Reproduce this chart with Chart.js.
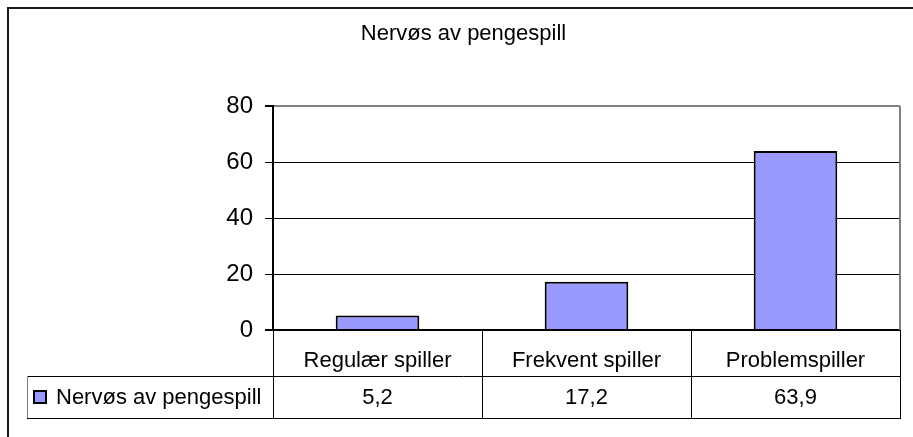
<!DOCTYPE html>
<html lang="no">
<head>
  <meta charset="UTF-8" />
  <title>Nervøs av pengespill</title>
  <script src="https://cdn.jsdelivr.net/npm/chart.js"></script>
  <style>
    body {
      margin: 0;
      padding: 0;
      background: #ffffff;
    }
    canvas {
      display: block;
    }
  </style>
</head>
<body>
  <canvas id="nervousChart" width="913" height="437"></canvas>

  <script>
    // data
    const categories = ["Regulær spiller", "Frekvent spiller", "Problemspiller"];
    const seriesName = "Nervøs av pengespill";
    const seriesValues = [5.2, 17.2, 63.9];
    const yTicks = [0, 20, 40, 60, 80];

    const barColor = "#9999ff";
    const fontFamily = "'Liberation Sans', Arial, sans-serif";

    // outer frame + data table under the plot (Excel style)
    const dataTablePlugin = {
      id: "dataTable",
      afterDraw(chart) {
        const ctx = chart.ctx;
        const area = chart.chartArea;
        const x = chart.scales.x;
        const rowTop = x.bottom;
        const rowBottom = rowTop + 42;
        const cellLeft = 27;
        const half = (x.getPixelForValue(1) - x.getPixelForValue(0)) / 2;

        ctx.save();

        // outer frame
        ctx.strokeStyle = "#1a1a1a";
        ctx.lineWidth = 2;
        ctx.beginPath();
        ctx.moveTo(8, chart.height);
        ctx.lineTo(8, 8);
        ctx.lineTo(chart.width, 8);
        ctx.stroke();

        // right border of plot area
        ctx.strokeStyle = "#808080";
        ctx.lineWidth = 2;
        ctx.beginPath();
        ctx.moveTo(area.right, area.top);
        ctx.lineTo(area.right, area.bottom);
        ctx.stroke();

        // table lines
        ctx.strokeStyle = "#000";
        ctx.lineWidth = 1;
        ctx.beginPath();
        ctx.moveTo(cellLeft, rowTop + 0.5);
        ctx.lineTo(area.right, rowTop + 0.5);
        ctx.moveTo(cellLeft, rowBottom + 0.5);
        ctx.lineTo(area.right + 1, rowBottom + 0.5);
        categories.forEach((c, i) => {
          const px = Math.round(x.getPixelForValue(i) - half) + 0.5;
          ctx.moveTo(px, area.bottom);
          ctx.lineTo(px, rowBottom);
        });
        const lastPx = Math.round(x.getPixelForValue(categories.length - 1) + half) + 0.5;
        ctx.moveTo(lastPx, area.bottom);
        ctx.lineTo(lastPx, rowBottom + 1);
        ctx.stroke();

        ctx.strokeStyle = "#808080";
        ctx.beginPath();
        ctx.moveTo(cellLeft + 0.5, rowTop);
        ctx.lineTo(cellLeft + 0.5, rowBottom);
        ctx.stroke();

        // legend key
        const midY = (rowTop + rowBottom) / 2;
        ctx.fillStyle = barColor;
        ctx.fillRect(34, midY - 6, 12, 12);
        ctx.strokeStyle = "#000";
        ctx.lineWidth = 2;
        ctx.strokeRect(34, midY - 6, 12, 12);

        // legend text and values
        ctx.fillStyle = "#000";
        ctx.font = "22px " + fontFamily;
        ctx.textBaseline = "middle";
        ctx.textAlign = "left";
        ctx.fillText(seriesName, 56, midY + 1);
        ctx.textAlign = "center";
        seriesValues.forEach((v, i) => {
          ctx.fillText(String(v).replace(".", ","), x.getPixelForValue(i), midY + 1);
        });

        ctx.restore();
      }
    };

    const ctx = document.getElementById("nervousChart").getContext("2d");
    const chart = new Chart(ctx, {
      type: "bar",
      data: {
        labels: categories,
        datasets: [{
          label: seriesName,
          data: seriesValues,
          backgroundColor: barColor,
          borderColor: "#000",
          borderWidth: 2,
          barPercentage: 0.4,
          categoryPercentage: 1
        }]
      },
      options: {
        responsive: false,
        animation: false,
        layout: {
          padding: { left: 27, right: 13, top: 0, bottom: 61 }
        },
        plugins: {
          legend: { display: false },
          tooltip: { enabled: false },
          title: {
            display: true,
            text: seriesName,
            color: "#000",
            font: { family: fontFamily, size: 22, weight: "normal" },
            padding: { top: 21, bottom: 58.6 }
          }
        },
        scales: {
          x: {
            grid: { display: false },
            border: { display: false },
            ticks: {
              color: "#000",
              padding: 10,
              font: { family: fontFamily, size: 22 }
            },
            afterFit(scale) {
              scale.height = 46;
            }
          },
          y: {
            min: 0,
            max: 80,
            afterBuildTicks(scale) {
              scale.ticks = yTicks.map(v => ({ value: v }));
            },
            grid: {
              color: c => (c.tick && c.tick.value === 80 ? "#808080" : "#000"),
              lineWidth: c => (c.tick && (c.tick.value === 80 || c.tick.value === 0) ? 2 : 1),
              tickColor: "#000",
              tickLength: 8
            },
            border: { color: "#000", width: 2 },
            ticks: {
              color: "#000",
              padding: 12,
              font: { family: fontFamily, size: 24 }
            },
            afterFit(scale) {
              scale.width = 246;
            }
          }
        }
      },
      plugins: [dataTablePlugin]
    });
  </script>
</body>
</html>
